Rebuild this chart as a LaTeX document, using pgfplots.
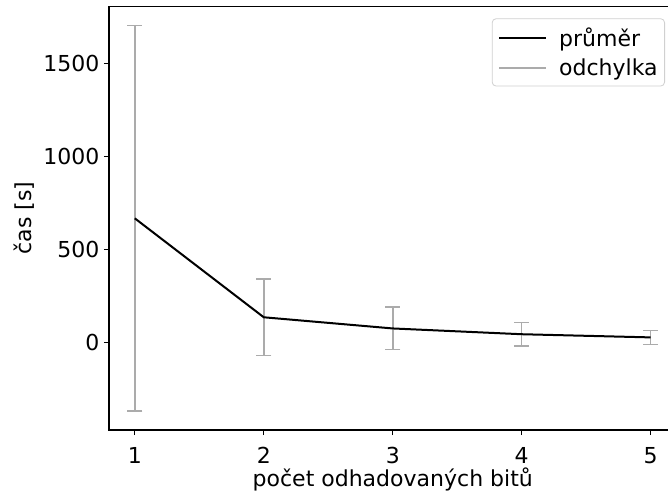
\documentclass[border=0pt]{standalone}
\usepackage{fontspec}
\setmainfont{DejaVu Sans}
\usepackage{pgfplots}
\pgfplotsset{compat=1.18}
\definecolor{errgray}{HTML}{ABABAB}
\definecolor{framegray}{HTML}{D0D0D0}
\begin{document}
\begin{tikzpicture}
\begin{axis}[
    scale only axis,
    width=567.5pt, height=423.7pt,
    xmin=0.8, xmax=5.2,
    ymin=-469, ymax=1805,
    xtick={1,2,3,4,5},
    ytick={0,500,1000,1500},
    scaled ticks=false,
    /pgf/number format/1000 sep={},
    /pgf/number format/assume math mode=true,
    tick align=outside,
    tick pos=left,
    major tick length=5pt,
    every tick/.style={black, line width=1pt},
    axis line style={black, line width=1.2pt},
    font=\fontsize{22}{26}\selectfont,
    xticklabel style={anchor=base, yshift=-28pt},
    yticklabel style={anchor=east, xshift=-1pt},
    xlabel={počet odhadovaných bitů},
    ylabel={čas [s]},
    every axis x label/.style={at={(rel axis cs:0.5,0)}, anchor=base, yshift=-56pt},
    every axis y label/.style={at={(rel axis cs:0,0.5)}, xshift=-85pt, anchor=center, rotate=90},
    legend style={at={(rel axis cs:1,1)}, anchor=north east, xshift=-11.5pt, yshift=-12pt,
        draw=framegray, line width=0.8pt, rounded corners=4pt,
        inner xsep=6pt, inner ysep=8pt, row sep=9pt, column sep=11pt,
        nodes={inner sep=1pt}},
    legend cell align=left,
    legend image code/.code={\draw[#1] (0pt,0pt) -- (47pt,0pt);},
]
\addplot[draw=none, mark=none, forget plot,
    error bars/.cd, y dir=both, y explicit,
    error mark=|,
    error bar style={draw=errgray, line width=1.5pt},
    error mark options={draw=errgray, line width=1.5pt, mark size=7.5pt}]
coordinates {
    (1,667) +- (0,1034)
    (2,136) +- (0,206)
    (3,76) +- (0,114)
    (4,45) +- (0,64)
    (5,28) +- (0,38)
};
\addplot[black, line width=2pt] coordinates {
    (1,667) (2,136) (3,76) (4,45) (5,28)
};
\addlegendentry{průměr}
\addlegendimage{errgray, line width=2pt}
\addlegendentry{odchylka}
\end{axis}
\pgfresetboundingbox
\useasboundingbox (-109pt,-62pt) rectangle (559pt,430pt);
\end{tikzpicture}
\end{document}
